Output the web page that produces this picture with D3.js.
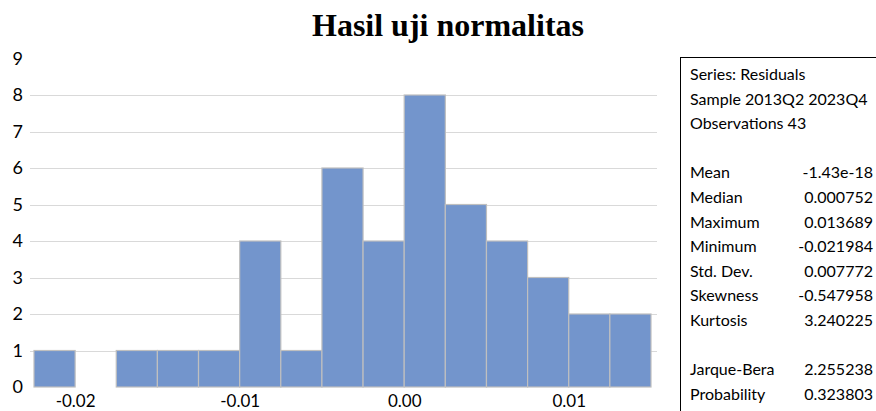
<!DOCTYPE html>
<html>
<head>
<meta charset="utf-8">
<script src="https://cdn.jsdelivr.net/npm/d3@7"></script>
<style>
  body { margin: 0; background: #fff; }
  svg { display: block; }
</style>
</head>
<body>
<div id="chart"></div>
<script>
// Data ----------------------------------------------------------------------------------------------------------------
const binStart = -0.0225;
const binWidth = 0.0025;
const counts = [1, 0, 1, 1, 1, 4, 1, 6, 4, 8, 5, 4, 3, 2, 2];
const xTicks = [-0.02, -0.01, 0.00, 0.01];
const yTicks = [0, 1, 2, 3, 4, 5, 6, 7, 8, 9];
const statHeader = ["Series: Residuals", "Sample 2013Q2 2023Q4", "Observations 43"];
const statNames = ["Mean", "Median", "Maximum", "Minimum", "Std. Dev.", "Skewness", "Kurtosis"];
const statValues = ["-1.43e-18", "0.000752", "0.013689", "-0.021984", "0.007772", "-0.547958", "3.240225"];
const testNames = ["Jarque-Bera", "Probability"];
const testValues = ["2.255238", "0.323803"];

// Canvas --------------------------------------------------------------------------------------------------------------
const canvasWidth = 876;
const canvasHeight = 411;
const labelFont = "Lato, 'Open Sans', sans-serif";

const svg = d3.select("#chart")
  .append("svg")
  .attr("width", canvasWidth)
  .attr("height", canvasHeight);

const bins = counts.map((c, i) => ({ x0: binStart + i * binWidth, x1: binStart + (i + 1) * binWidth, count: c }));

const xScale = d3.scaleLinear()
  .domain([binStart, binStart + counts.length * binWidth])
  .range([34, 651]);
const yScale = d3.scaleLinear()
  .domain([0, 9])
  .range([387, 58.5]);

// Title
svg.append("text")
  .text("Hasil uji normalitas")
  .attr("x", 448)
  .attr("y", 36)
  .style("text-anchor", "middle")
  .style("font-family", "'Liberation Serif', 'Times New Roman', serif")
  .style("font-weight", "bold")
  .style("font-size", "32px");

// Gridlines
svg.append("g")
  .selectAll("line")
  .data(yTicks.filter(d => d > 0 && d < 9))
  .enter()
  .append("line")
  .attr("x1", 30)
  .attr("x2", 657)
  .attr("y1", d => Math.round(yScale(d)) + 0.5)
  .attr("y2", d => Math.round(yScale(d)) + 0.5)
  .style("stroke", "#d9d9d9")
  .style("stroke-width", 1);

// Bars
svg.append("g")
  .selectAll("rect")
  .data(bins.filter(d => d.count > 0))
  .enter()
  .append("rect")
  .attr("x", d => xScale(d.x0))
  .attr("y", d => yScale(d.count))
  .attr("width", d => xScale(d.x1) - xScale(d.x0))
  .attr("height", d => yScale(0) - yScale(d.count))
  .style("fill", "#7395cc")
  .style("stroke", "#bfbfbf")
  .style("stroke-width", 1.2);

// Axes (plain hyphen for minus, as in the original)
const hyphenFormat = f => d => f(d).replace("\u2212", "-");

const yAxis = svg.append("g")
  .attr("transform", "translate(23, 0)")
  .call(d3.axisLeft(yScale).tickValues(yTicks).tickFormat(d3.format("d")).tickSize(0).tickPadding(0));
yAxis.select(".domain").remove();
yAxis.selectAll("text")
  .style("font-family", labelFont)
  .style("font-size", "18px")
  .style("fill", "#000");

const xAxis = svg.append("g")
  .attr("transform", "translate(0, 387)")
  .call(d3.axisBottom(xScale).tickValues(xTicks).tickFormat(hyphenFormat(d3.format(".2f"))).tickSize(0));
xAxis.select(".domain").remove();
xAxis.selectAll("text")
  .attr("y", 20)
  .attr("dy", 0)
  .style("font-family", labelFont)
  .style("font-size", "17px")
  .style("fill", "#000");

// Statistics box
const boxX = 680.5;
const boxY = 57.5;
const lineStep = 24.6;
const firstBaseline = 80;
const textLeft = 690;
const textRight = 873;

svg.append("rect")
  .attr("x", boxX)
  .attr("y", boxY)
  .attr("width", canvasWidth)
  .attr("height", canvasHeight)
  .style("fill", "none")
  .style("stroke", "#000")
  .style("stroke-width", 1);

const statGroup = svg.append("g")
  .style("font-family", labelFont)
  .style("font-size", "16px")
  .style("fill", "#000");

statGroup.selectAll("text.header")
  .data(statHeader)
  .enter()
  .append("text")
  .attr("class", "header")
  .text(d => d)
  .attr("x", textLeft)
  .attr("y", (d, i) => firstBaseline + i * lineStep);

const rows = statNames.map((n, i) => ({ name: n, value: statValues[i], line: 4 + i }))
  .concat(testNames.map((n, i) => ({ name: n, value: testValues[i], line: 12 + i })));

statGroup.selectAll("text.name")
  .data(rows)
  .enter()
  .append("text")
  .attr("class", "name")
  .text(d => d.name)
  .attr("x", textLeft)
  .attr("y", d => firstBaseline + d.line * lineStep);

statGroup.selectAll("text.value")
  .data(rows)
  .enter()
  .append("text")
  .attr("class", "value")
  .text(d => d.value)
  .attr("x", textRight)
  .attr("y", d => firstBaseline + d.line * lineStep)
  .style("text-anchor", "end");
</script>
</body>
</html>
